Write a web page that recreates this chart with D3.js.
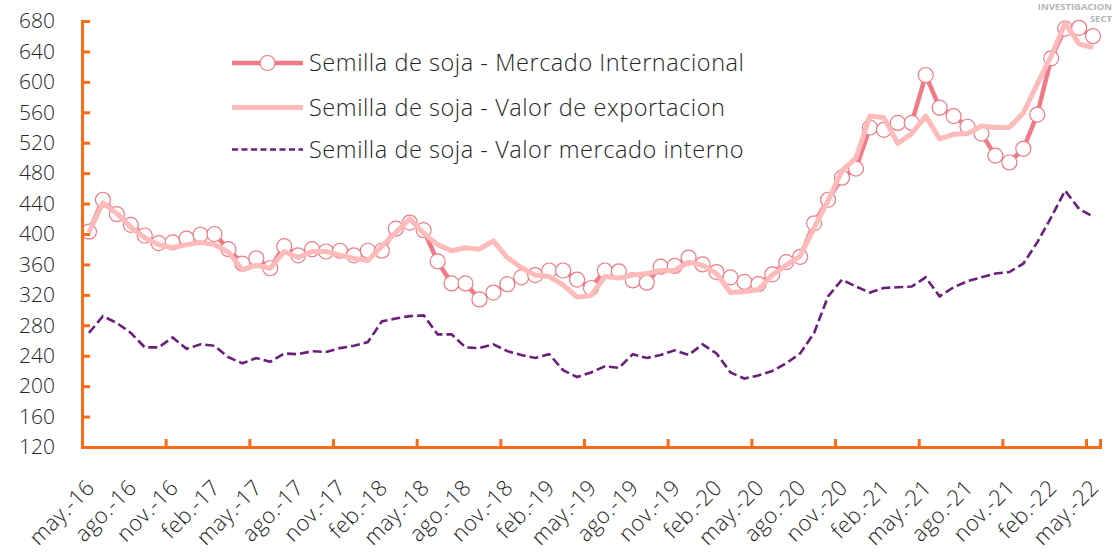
<!DOCTYPE html>
<html>
<head>
<meta charset="utf-8">
<script src="https://cdn.jsdelivr.net/npm/d3@7/dist/d3.min.js"></script>
<style>
  html, body { margin: 0; padding: 0; background: #ffffff; }
  svg { display: block; }
  text { font-family: "Open Sans", "Lato", "DejaVu Sans", sans-serif; font-weight: 300; fill: #262626; }
</style>
</head>
<body>
<svg id="chart" width="1114" height="556"></svg>
<script>
// ---- data ----
const months = [
  "may.-16","jun.-16","jul.-16","ago.-16","sep.-16","oct.-16","nov.-16","dic.-16",
  "ene.-17","feb.-17","mar.-17","abr.-17","may.-17","jun.-17","jul.-17","ago.-17","sep.-17","oct.-17","nov.-17","dic.-17",
  "ene.-18","feb.-18","mar.-18","abr.-18","may.-18","jun.-18","jul.-18","ago.-18","sep.-18","oct.-18","nov.-18","dic.-18",
  "ene.-19","feb.-19","mar.-19","abr.-19","may.-19","jun.-19","jul.-19","ago.-19","sep.-19","oct.-19","nov.-19","dic.-19",
  "ene.-20","feb.-20","mar.-20","abr.-20","may.-20","jun.-20","jul.-20","ago.-20","sep.-20","oct.-20","nov.-20","dic.-20",
  "ene.-21","feb.-21","mar.-21","abr.-21","may.-21","jun.-21","jul.-21","ago.-21","sep.-21","oct.-21","nov.-21","dic.-21",
  "ene.-22","feb.-22","mar.-22","abr.-22","may.-22"
];

const mercadoInternacional = [
  403,445,426,412,398,388,389,394,399,400,380,361,368,355,384,372,380,377,378,372,
  378,378,407,415,405,364,335,335,314,323,334,343,346,352,352,340,329,352,351,339,
  336,357,358,369,360,350,343,337,334,347,363,370,414,445,474,486,540,537,546,546,
  609,566,555,541,532,503,494,512,557,631,670,671,660
];

const valorExportacion = [
  402,441,427,409,395,386,382,386,389,386,376,353,359,355,377,369,377,377,372,368,
  365,384,402,420,401,386,378,382,380,391,369,356,346,344,333,317,319,344,342,346,
  348,352,352,363,359,348,323,324,327,346,359,371,408,444,483,500,555,553,519,532,
  555,525,531,532,542,540,540,559,597,634,677,650,645
];

const valorInterno = [
  270,292,283,270,251,251,264,249,255,253,238,230,237,232,243,242,246,245,250,253,
  258,285,289,292,293,268,268,251,250,255,246,241,237,242,221,212,218,226,224,242,
  237,241,247,241,255,243,218,210,214,220,230,243,270,318,340,331,323,329,330,331,
  343,318,330,338,343,348,350,361,389,422,457,433,423
];

const seriesNames = [
  "Semilla de soja - Mercado Internacional",
  "Semilla de soja - Valor de exportacion",
  "Semilla de soja - Valor mercado interno"
];

const yTicks = [120,160,200,240,280,320,360,400,440,480,520,560,600,640,680];

// ---- layout ----
const mLeft = 82, mRight = 1100, mTop = 21, mBottom = 447;
const svg = d3.select("#chart");

const idx = d3.range(months.length);
const xBand = d3.scaleBand().domain(idx).range([mLeft, mRight]).paddingInner(0).paddingOuter(0);
const xEdge = d3.scaleLinear().domain([0, months.length]).range([mLeft, mRight]);
const xc = i => xBand(i) + xBand.bandwidth() / 2;
const y = d3.scaleLinear().domain([120, 680]).range([mBottom, mTop]);

const axisColor = "#f96b17";

// ---- series ----
const lineM = d3.line().x((d, i) => xc(i)).y(d => y(d));

svg.append("path").datum(mercadoInternacional)
  .attr("d", lineM).attr("fill", "none")
  .attr("stroke", "#f07a86").attr("stroke-width", 4.5).attr("stroke-linejoin", "round");

svg.append("g").selectAll("circle").data(mercadoInternacional).join("circle")
  .attr("cx", (d, i) => xc(i)).attr("cy", d => y(d)).attr("r", 7.5)
  .attr("fill", "#ffffff").attr("stroke", "#f07a86").attr("stroke-width", 1.2);

svg.append("path").datum(valorExportacion)
  .attr("d", lineM).attr("fill", "none")
  .attr("stroke", "#ffbaba").attr("stroke-width", 5).attr("stroke-linejoin", "round");

svg.append("path").datum(valorInterno)
  .attr("d", lineM).attr("fill", "none")
  .attr("stroke", "#6b1f7b").attr("stroke-width", 2.6).attr("stroke-dasharray", "9,4");

// ---- axes ----
const yAxis = d3.axisLeft(y).tickValues(yTicks).tickSize(-8).tickPadding(27).tickFormat(d3.format("d"));
const gy = svg.append("g").attr("transform", `translate(${mLeft},0)`).call(yAxis);
gy.select(".domain").attr("stroke", axisColor).attr("stroke-width", 3);
gy.selectAll(".tick line").attr("stroke", axisColor).attr("stroke-width", 3);
gy.selectAll(".tick text").style("font-size", "21px").attr("fill", "#262626");

// x tick marks (every 6 categories, at category boundaries)
const xTickAxis = d3.axisBottom(xEdge).tickValues(d3.range(0, months.length, 6)).tickSize(-8).tickFormat("");
const gxt = svg.append("g").attr("transform", `translate(0,${mBottom})`).call(xTickAxis);
gxt.select(".domain").attr("stroke", axisColor).attr("stroke-width", 3);
gxt.selectAll(".tick line").attr("stroke", axisColor).attr("stroke-width", 3);

// x labels (every 3 categories)
const labelIdx = d3.range(0, months.length, 3);
const xLabelAxis = d3.axisBottom(xBand).tickValues(labelIdx).tickSize(0).tickFormat(i => months[i]);
const gxl = svg.append("g").attr("transform", `translate(0,${mBottom})`).call(xLabelAxis);
gxl.select(".domain").remove();
gxl.selectAll(".tick text")
  .attr("x", 0).attr("y", 0).attr("dy", 0)
  .attr("transform", "translate(7,42) rotate(-45)")
  .style("text-anchor", "end").style("font-size", "22px").style("letter-spacing", "0.4px")
  .attr("fill", "#262626");

// ---- legend ----
const legendRows = [63, 107.5, 149.5];
const lg = svg.append("g");
lg.append("line").attr("x1", 232).attr("x2", 303).attr("y1", legendRows[0]).attr("y2", legendRows[0])
  .attr("stroke", "#f07a86").attr("stroke-width", 4.5);
lg.append("circle").attr("cx", 267.5).attr("cy", legendRows[0]).attr("r", 7.5)
  .attr("fill", "#fff").attr("stroke", "#f07a86").attr("stroke-width", 1.2);
lg.append("line").attr("x1", 232).attr("x2", 303).attr("y1", legendRows[1]).attr("y2", legendRows[1])
  .attr("stroke", "#ffbaba").attr("stroke-width", 5);
lg.append("line").attr("x1", 232).attr("x2", 303).attr("y1", legendRows[2]).attr("y2", legendRows[2])
  .attr("stroke", "#6b1f7b").attr("stroke-width", 2.4).attr("stroke-dasharray", "6,3.5");
lg.selectAll("text.leg").data(seriesNames).join("text").attr("class", "leg")
  .attr("x", 309).attr("y", (d, i) => legendRows[i]).attr("dy", "0.35em")
  .style("font-size", "23.5px").style("letter-spacing", "0.55px").text(d => d);

// ---- watermark ----
svg.append("text").attr("x", 1112).attr("y", 10).text("INVESTIGACION")
  .style("text-anchor", "end")
  .style("font-size", "9.5px").style("font-weight", "700").style("fill", "#b5b5b5");
svg.append("text").attr("x", 1112).attr("y", 22).text("SECT")
  .style("text-anchor", "end")
  .style("font-size", "9.5px").style("font-weight", "700").style("fill", "#b5b5b5");
</script>
</body>
</html>
